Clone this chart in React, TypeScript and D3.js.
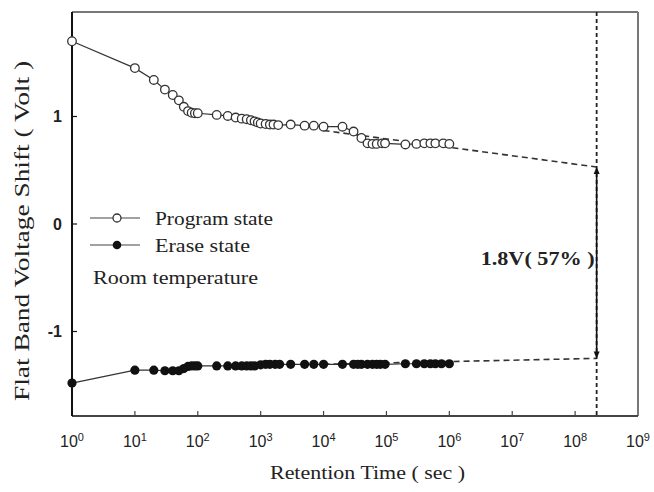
import * as d3 from "d3";

// retention measurement, program branch (time in s, flat band shift in V)
const programTimes = [
  1, 10, 20, 30, 40, 50, 60, 70, 80, 90, 100, 200, 300, 400, 500, 600, 700,
  800, 900, 1000, 1200, 1400, 1600, 1900, 3000, 5000, 7000, 10000, 20000,
  30000, 40000, 50000, 60000, 70000, 85000, 95000, 200000, 300000, 400000,
  500000, 600000, 800000, 1000000,
];
const programShift = [
  1.7, 1.45, 1.34, 1.25, 1.2, 1.15, 1.09, 1.05, 1.035, 1.03, 1.03, 1.015,
  1.005, 0.99, 0.98, 0.975, 0.965, 0.955, 0.945, 0.935, 0.93, 0.925, 0.925,
  0.92, 0.925, 0.915, 0.915, 0.905, 0.905, 0.86, 0.8, 0.75, 0.745, 0.745,
  0.75, 0.75, 0.74, 0.745, 0.75, 0.75, 0.75, 0.75, 0.745,
];

// erase branch
const eraseTimes = [
  1, 10, 20, 30, 40, 50, 60, 70, 80, 90, 100, 200, 300, 400, 500, 600, 700,
  800, 1000, 1200, 1400, 1700, 2000, 3000, 5000, 7000, 10000, 20000, 30000,
  35000, 40000, 50000, 60000, 70000, 80000, 95000, 200000, 300000, 400000,
  500000, 600000, 750000, 1000000,
];
const eraseShift = [
  -1.48, -1.36, -1.36, -1.365, -1.365, -1.365, -1.345, -1.325, -1.32, -1.32,
  -1.32, -1.32, -1.32, -1.32, -1.32, -1.32, -1.32, -1.32, -1.31, -1.305,
  -1.305, -1.305, -1.305, -1.305, -1.305, -1.305, -1.305, -1.305, -1.305,
  -1.305, -1.305, -1.305, -1.305, -1.305, -1.305, -1.305, -1.3, -1.3, -1.3,
  -1.3, -1.3, -1.3, -1.3,
];

// log-linear extrapolation out to the retention target
const fitTimes = [1e4, 2.2e8];
const programFit = [0.87, 0.53];
const eraseFit = [-1.305, -1.25];
const windowLabel = "1.8V( 57% )";

const xTicks = [0, 1, 2, 3, 4, 5, 6, 7, 8, 9];
const yTicks = [1, 0, -1];

const W = 654;
const H = 492;
const PLOT = { left: 72, right: 638, top: 12, bottom: 416 };
const SERIF = "'Liberation Serif', 'Times New Roman', serif";
const SANS = "'Liberation Sans', Arial, sans-serif";

export default function App() {
  const x = d3.scaleLog().domain([1, 1e9]).range([PLOT.left, PLOT.right]);
  const y = d3.scaleLinear().domain([-1.786, 1.972]).range([PLOT.bottom, PLOT.top]);

  const line = d3
    .line<[number, number]>()
    .x((d) => x(d[0]))
    .y((d) => y(d[1]));

  const program = programTimes.map((t, i) => [t, programShift[i]] as [number, number]);
  const erase = eraseTimes.map((t, i) => [t, eraseShift[i]] as [number, number]);
  const pFit = fitTimes.map((t, i) => [t, programFit[i]] as [number, number]);
  const eFit = fitTimes.map((t, i) => [t, eraseFit[i]] as [number, number]);

  const xt = x(fitTimes[1]);
  const yTop = y(programFit[1]);
  const yBot = y(eraseFit[1]);

  // serif labels are set wide, so stretch them to their measured lengths
  const wide = { lengthAdjust: "spacingAndGlyphs" as const };

  return (
    <svg
      width={W}
      height={H}
      style={{ position: "absolute", left: 0, top: 0, background: "#fff" }}
    >
      {/* frame */}
      <line x1={PLOT.left} x2={PLOT.right} y1={PLOT.top} y2={PLOT.top} stroke="#777" strokeWidth={2} />
      <line x1={PLOT.right} x2={PLOT.right} y1={PLOT.top} y2={PLOT.bottom} stroke="#777" strokeWidth={2} />
      <line x1={PLOT.left} x2={PLOT.right} y1={PLOT.bottom} y2={PLOT.bottom} stroke="#444" strokeWidth={2} />
      <line x1={PLOT.left} x2={PLOT.left} y1={PLOT.top} y2={PLOT.bottom} stroke="#111" strokeWidth={2} />

      {/* x ticks */}
      {xTicks.map((e) => (
        <g key={e} transform={`translate(${x(10 ** e)},0)`}>
          {e > 0 && e < 9 && (
            <line y1={PLOT.bottom} y2={PLOT.bottom - 5} stroke="#444" strokeWidth={1.2} />
          )}
          <text y={447} textAnchor="middle" fontFamily={SANS} fontSize={16} fill="#222">
            10
            <tspan dy={-6} fontSize={11}>
              {e}
            </tspan>
          </text>
        </g>
      ))}

      {/* y ticks */}
      {yTicks.map((v) => (
        <g key={v} transform={`translate(0,${y(v)})`}>
          <line x1={PLOT.left} x2={PLOT.left + 5} stroke="#111" strokeWidth={1.2} />
          <text
            x={PLOT.left - 10}
            dy="0.35em"
            textAnchor="end"
            fontFamily={SANS}
            fontWeight="bold"
            fontSize={16}
            fill="#222"
          >
            {v}
          </text>
        </g>
      ))}

      {/* axis titles */}
      <text
        x={270}
        y={479}
        fontFamily={SERIF}
        fontSize={19}
        fill="#222"
        textLength={195}
        {...wide}
      >
        Retention Time ( sec )
      </text>
      <text
        transform={`translate(29,401) rotate(-90)`}
        fontFamily={SERIF}
        fontSize={21}
        fill="#222"
        textLength={340}
        {...wide}
      >
        Flat Band Voltage Shift ( Volt )
      </text>

      {/* extrapolation */}
      <path d={line(pFit) ?? ""} fill="none" stroke="#333" strokeWidth={1.6} strokeDasharray="6,4" />
      <path d={line(eFit) ?? ""} fill="none" stroke="#333" strokeWidth={1.6} strokeDasharray="6,4" />
      <line x1={xt} x2={xt} y1={PLOT.top} y2={PLOT.bottom} stroke="#222" strokeWidth={1.8} strokeDasharray="4,3" />

      {/* memory window */}
      <line x1={xt} x2={xt} y1={yTop + 4} y2={yBot - 4} stroke="#111" strokeWidth={1.6} />
      <path d={`M${xt},${yTop} l-3,7 l6,0 z`} fill="#111" />
      <path d={`M${xt},${yBot} l-3,-7 l6,0 z`} fill="#111" />
      <text
        x={xt - 116}
        y={265}
        fontFamily={SERIF}
        fontWeight="bold"
        fontSize={19}
        fill="#222"
        textLength={114}
        {...wide}
      >
        {windowLabel}
      </text>

      {/* data */}
      <path d={line(program) ?? ""} fill="none" stroke="#333" strokeWidth={1.2} />
      <path d={line(erase) ?? ""} fill="none" stroke="#333" strokeWidth={1.2} />
      {program.map((d, i) => (
        <circle key={`p${i}`} cx={x(d[0])} cy={y(d[1])} r={4.3} fill="#fff" stroke="#333" strokeWidth={1.3} />
      ))}
      {erase.map((d, i) => (
        <circle key={`e${i}`} cx={x(d[0])} cy={y(d[1])} r={4.6} fill="#111" />
      ))}

      {/* legend */}
      <line x1={90} x2={140} y1={218} y2={218} stroke="#444" strokeWidth={1.2} />
      <circle cx={117} cy={218} r={4} fill="#fff" stroke="#333" strokeWidth={1.3} />
      <text x={155} y={225} fontFamily={SERIF} fontSize={19} fill="#222" textLength={118} {...wide}>
        Program state
      </text>
      <line x1={90} x2={140} y1={245} y2={245} stroke="#444" strokeWidth={1.2} />
      <circle cx={117} cy={245} r={4.3} fill="#111" />
      <text x={155} y={252} fontFamily={SERIF} fontSize={19} fill="#222" textLength={95} {...wide}>
        Erase state
      </text>
      <text x={93} y={284} fontFamily={SERIF} fontSize={19} fill="#222" textLength={165} {...wide}>
        Room temperature
      </text>
    </svg>
  );
}
